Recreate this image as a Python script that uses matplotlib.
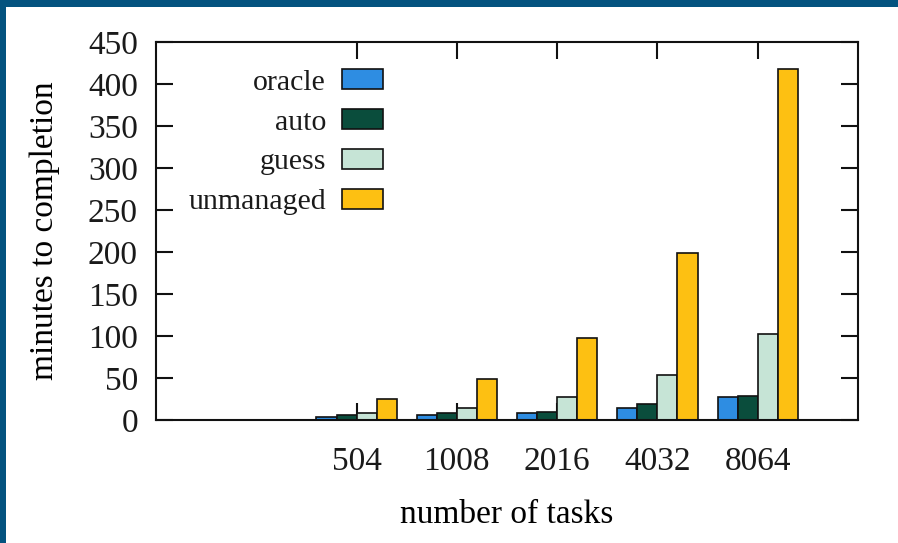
import numpy as np
import matplotlib
matplotlib.use("Agg")
import matplotlib.pyplot as plt
from matplotlib.patches import Rectangle

# task counts and completion times (minutes) per scheduling policy
tasks = ["504", "1008", "2016", "4032", "8064"]
oracle = [4, 5.5, 8, 14, 27]
auto = [6, 8, 10, 19, 29]
guess = [8, 14, 27, 53, 102]
unmanaged = [25, 49, 98, 199, 418]

series = [("oracle", oracle, "#2e8de2"),
          ("auto", auto, "#0a4d3c"),
          ("guess", guess, "#c6e4d6"),
          ("unmanaged", unmanaged, "#fdc012")]

plt.rcParams["font.family"] = ["Liberation Serif", "DejaVu Serif"]
plt.rcParams["text.color"] = "#1a1a1a"

W, H = 898, 543
fig = plt.figure(figsize=(W / 100, H / 100), dpi=100)
fig.patch.set_facecolor("white")

# slide frame: strips along the top and left edges
frame = "#04537f"
fig.patches.append(Rectangle((0, 0), 6 / W, 1, transform=fig.transFigure,
                             facecolor=frame, edgecolor="none", zorder=0))
fig.patches.append(Rectangle((0, 1 - 7 / H), 1, 7 / H, transform=fig.transFigure,
                             facecolor=frame, edgecolor="none", zorder=0))

ax = fig.add_axes([156 / W, (H - 420) / H, (858 - 156) / W, (420 - 42) / H])

x = np.arange(len(tasks))
width = 0.2
for i, (name, vals, color) in enumerate(series):
    ax.bar(x + (i - 1.5) * width, vals, width, color=color, edgecolor="#111111",
           linewidth=1.2, label=name, zorder=2)

ax.set_xlim(-2, 5)
ax.set_ylim(0, 450)
ax.set_xticks(x)
ax.set_xticklabels(tasks)
ax.set_yticks(np.arange(0, 451, 50))
ax.set_axisbelow(True)

for s in ax.spines.values():
    s.set_linewidth(1.5)
    s.set_color("#111111")
    s.set_zorder(3)

ax.tick_params(axis="both", direction="in", length=12, width=1.5, color="#111111",
               top=True, right=True, labelsize=24, labelcolor="#1a1a1a")
ax.tick_params(axis="x", pad=19)
ax.tick_params(axis="y", pad=13)

ax.set_xlabel("number of tasks", fontsize=24, labelpad=16)
ax.set_ylabel("minutes to completion", fontsize=24, labelpad=20)

leg = ax.legend(loc="upper right", bbox_to_anchor=(0.323, 0.928), frameon=False,
                markerfirst=False, fontsize=21.5, handlelength=1.35, handleheight=0.65,
                handletextpad=0.55, labelspacing=0.45, borderpad=0, borderaxespad=0)

fig.savefig("out.png", dpi=100, facecolor="white")
